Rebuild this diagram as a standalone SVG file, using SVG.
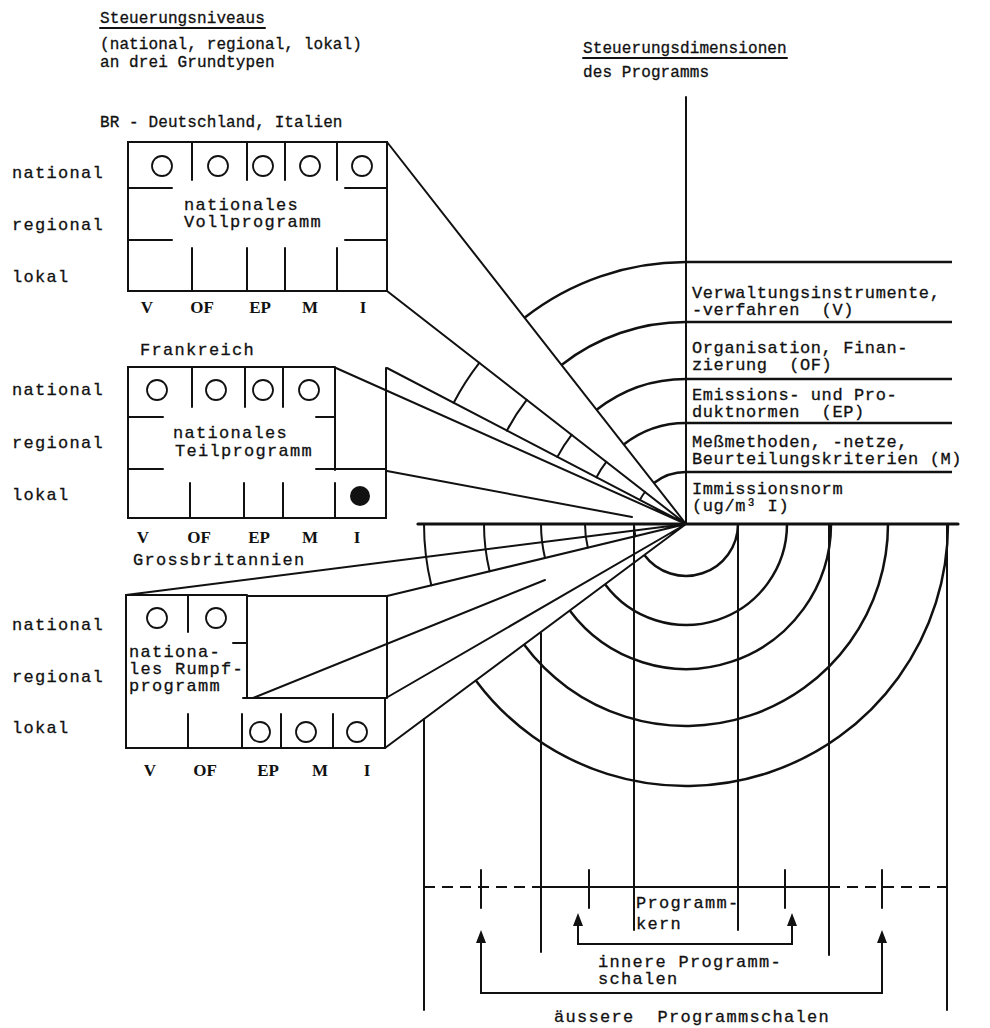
<svg xmlns="http://www.w3.org/2000/svg" width="990" height="1028" viewBox="0 0 990 1028">
<style>
text{font-family:"Liberation Mono","DejaVu Sans Mono",monospace;font-size:17px;letter-spacing:1.3px;fill:#111;stroke:#111;stroke-width:0.3px}
.hd{font-size:16px;letter-spacing:0.1px}
.rc{letter-spacing:0.6px}
.c{font-family:"Liberation Serif","Times New Roman",serif;font-size:17px;font-weight:bold;letter-spacing:0;text-anchor:middle;stroke-width:0}
.l{stroke:#111;stroke-width:2;fill:none;stroke-linecap:round}
.t{stroke:#111;stroke-width:3.2;fill:none;stroke-linecap:round}
.a{stroke:#111;stroke-width:2.5;fill:none}
.o{stroke:#111;stroke-width:1.8;fill:#fff}
.d{stroke:#111;stroke-width:2;stroke-dasharray:11 7;fill:none}
.h{fill:#111}
</style>
<g id="headers">
<text class="hd" x="100" y="23">Steuerungsniveaus</text>
<line class="l" x1="100" y1="28" x2="265" y2="28"/>
<text class="hd" x="100" y="49">(national, regional, lokal)</text>
<text class="hd" x="100" y="67">an drei Grundtypen</text>
<text class="hd" x="583" y="53">Steuerungsdimensionen</text>
<line class="l" x1="583" y1="58" x2="787" y2="58"/>
<text class="hd" x="583" y="77">des Programms</text>
</g>
<g id="box-br">
<text class="hd" x="100" y="127">BR - Deutschland, Italien</text>
<text x="12" y="178">national</text>
<text x="12" y="230">regional</text>
<text x="12" y="282">lokal</text>
<rect class="l" x="128" y="142" width="259" height="149"/>
<path class="l" d="M128,188H172M345,188H387M128,240H172M345,240H387M192,142V180M247,142V180M285,142V180M337,142V180M192,248V291M247,248V291M285,248V291M337,248V291"/>
<circle class="o" cx="162" cy="166" r="10"/><circle class="o" cx="218" cy="166" r="10"/><circle class="o" cx="263" cy="166" r="10"/><circle class="o" cx="310" cy="166" r="10"/><circle class="o" cx="362" cy="166" r="10"/>
<text x="184" y="210">nationales</text>
<text x="184" y="227">Vollprogramm</text>
<text class="c" x="147" y="313">V</text><text class="c" x="202" y="313">OF</text><text class="c" x="260" y="313">EP</text><text class="c" x="310" y="313">M</text><text class="c" x="363" y="313">I</text>
</g>
<g id="box-fr">
<text x="140" y="355">Frankreich</text>
<text x="12" y="395">national</text>
<text x="12" y="448">regional</text>
<text x="12" y="500">lokal</text>
<path class="l" d="M335,367H128V518H386V368M335,367V470M316,469H386M128,417H163M316,417H335M128,469H163M192,367V407M245,367V407M283,367V407M190,483V518M244,483V518M283,483V518M335,483V518"/>
<circle class="o" cx="157" cy="390" r="10"/><circle class="o" cx="216" cy="390" r="10"/><circle class="o" cx="263" cy="390" r="10"/><circle class="o" cx="309" cy="390" r="10"/>
<circle class="h" cx="360" cy="496" r="10"/>
<text x="173" y="438">nationales</text>
<text x="175" y="456">Teilprogramm</text>
<text class="c" x="143" y="543">V</text><text class="c" x="199" y="543">OF</text><text class="c" x="259" y="543">EP</text><text class="c" x="310" y="543">M</text><text class="c" x="357" y="543">I</text>
</g>
<g id="box-gb">
<text x="133" y="565">Grossbritannien</text>
<text x="12" y="630">national</text>
<text x="12" y="682">regional</text>
<text x="12" y="733">lokal</text>
<path class="l" d="M247,595H126V748H385V698M247,595V698M233,643H247M243,698H386M387,596V698M247,596H387M188,595V632M188,714V748M242,714V748M281,714V748M333,714V748"/>
<circle class="o" cx="157" cy="618" r="10"/><circle class="o" cx="216" cy="618" r="10"/>
<circle class="o" cx="260" cy="732" r="10"/><circle class="o" cx="306" cy="732" r="10"/><circle class="o" cx="357" cy="732" r="10"/>
<text x="129" y="657">nationa-</text>
<text x="129" y="674">les Rumpf-</text>
<text x="129" y="691">programm</text>
<text class="c" x="150" y="776">V</text><text class="c" x="205" y="776">OF</text><text class="c" x="268" y="776">EP</text><text class="c" x="320" y="776">M</text><text class="c" x="367" y="776">I</text>
</g>
<g id="dimensions">
<path class="l" d="M686,97V524"/>
<path class="a" d="M686,262H952M686,322H952M686,379H952M686,423H952M686,472H952"/>
<text class="rc" x="692" y="298">Verwaltungsinstrumente,</text>
<text class="rc" x="692" y="315" xml:space="preserve">-verfahren  (V)</text>
<text class="rc" x="692" y="353">Organisation, Finan-</text>
<text class="rc" x="692" y="370" xml:space="preserve">zierung  (OF)</text>
<text class="rc" x="692" y="400">Emissions- und Pro-</text>
<text class="rc" x="692" y="417" xml:space="preserve">duktnormen  (EP)</text>
<text class="rc" x="692" y="447">Meßmethoden, -netze,</text>
<text class="rc" x="692" y="464">Beurteilungskriterien (M)</text>
<text class="rc" x="692" y="494">Immissionsnorm</text>
<text class="rc" x="692" y="511">(ug/m³ I)</text>
</g>
<g id="connectors">
<path class="l" d="M387,142L686,524M387,291L686,524M336,368L686,524M387,368L686,524M387,471L632,517M126,595L686,524M387,596L686,524M253,698L545,580M386,698L686,524M385,748L686,524"/>
<path class="t" d="M418,524H958"/>
<path class="a" d="M686,472A52,52 0 0 0 653.9,483M686,423A101,101 0 0 0 623.7,444.5M686,379A145,145 0 0 0 596.6,409.8M686,322A202,202 0 0 0 561.5,364.9M686,262A262,262 0 0 0 524.5,317.7"/>
<path class="l" d="M645,492A52,52 0 0 0 639.9,499.9M606.3,461.9A101,101 0 0 0 596.5,477.3M571.6,434.9A145,145 0 0 0 557.4,456.9M526.7,399.8A202,202 0 0 0 506.9,430.6M479.3,362.9A262,262 0 0 0 453.7,402.8"/>
<path class="l" d="M634,524A52,52 0 0 0 635.4,536.2M585,524A101,101 0 0 0 587.8,547.6M541,524A145,145 0 0 0 545,557.9M484,524A202,202 0 0 0 489.6,571.3M424,524A262,262 0 0 0 431.3,585.3"/>
<path class="a" d="M644.3,555A52,52 0 0 0 738,524M605,584.3A101,101 0 0 0 787,524M569.7,610.6A145,145 0 0 0 831,524M524,644.6A202,202 0 0 0 888,524M475.8,680.4A262,262 0 0 0 948,524"/>
<path class="l" d="M424,719V1010M541,633V952M634,524V930M738,524V930M829,524V955M947,524V1010"/>
<path class="d" d="M424,887H541M829,887H947"/>
<path class="l" d="M541,887H829M481,870V908M589,870V908M785,870V908M882,870V908"/>
<path class="l" d="M578,924V944H792V924M481,941V993H882V941"/>
<path class="h" d="M578,913l-5,13h10zM792,913l-5,13h10zM481,930l-5,13h10zM882,930l-5,13h10z"/>
</g>
<g id="shell-labels">
<text x="636" y="908">Programm-</text>
<text x="636" y="929">kern</text>
<text x="598" y="967">innere Programm-</text>
<text x="598" y="984">schalen</text>
<text x="554" y="1022" xml:space="preserve">äussere  Programmschalen</text>
</g>
</svg>
